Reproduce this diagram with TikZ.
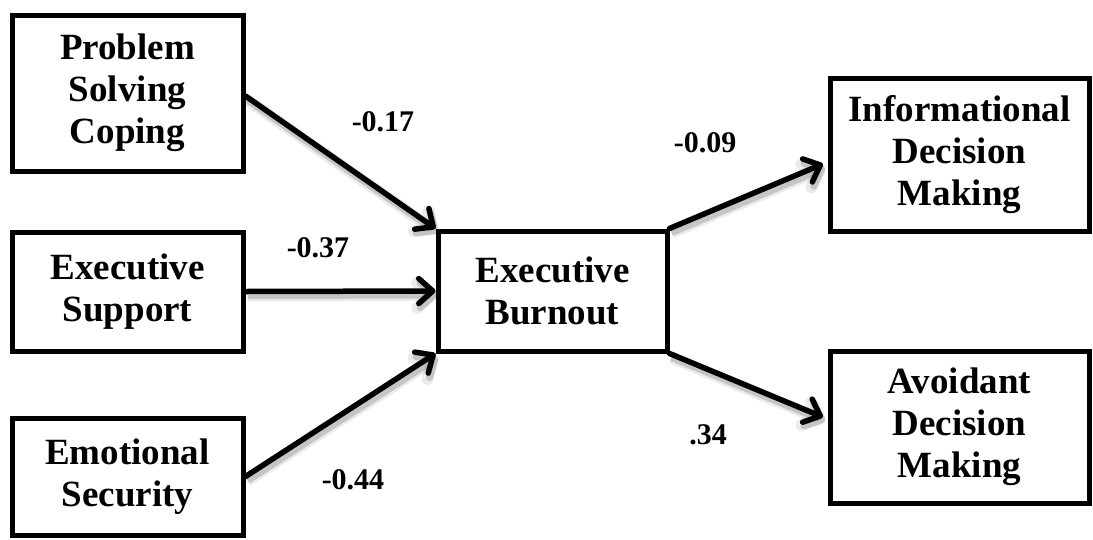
\documentclass[tikz,border=0pt]{standalone}
\usepackage{fontspec}
\setmainfont{Liberation Serif}
\usetikzlibrary{arrows.meta}

\tikzset{
  var/.style={draw=black, line width=5pt, fill=white, inner sep=0pt,
    align=center, font=\bfseries\fontsize{37}{42}\selectfont},
  coef/.style={inner sep=0pt, font=\bfseries\fontsize{30}{32}\selectfont},
  path arrow/.style={line width=5.5pt, line cap=round,
    -{Straight Barb[length=14pt,width=25pt,round]},
    preaction={draw=black, opacity=0.08, line width=12pt,
      transform canvas={shift={(2pt,-4pt)}}},
    preaction={draw=black, opacity=0.16, line width=7pt,
      transform canvas={shift={(2pt,-4pt)}}}},
}

\begin{document}
\begin{tikzpicture}[x=1pt, y=-1pt]
  \useasboundingbox (0,0) rectangle (1093,539);

  % predictors
  \node[var, minimum width=231pt, minimum height=156pt] (psc) at (127.5,93)
    {Problem\\Solving\\Coping};
  \node[var, minimum width=231pt, minimum height=119pt] (sup) at (127.5,291.5)
    {Executive\\Support};
  \node[var, minimum width=231pt, minimum height=117pt] (emo) at (127.5,476.5)
    {Emotional\\Security};

  % mediator
  \node[var, minimum width=229pt, minimum height=120pt] (bo) at (552.5,291)
    {Executive\\Burnout};

  % outcomes
  \node[var, minimum width=259pt, minimum height=153pt] (inf) at (959.5,154.5)
    {Informational\\Decision\\Making};
  \node[var, minimum width=259pt, minimum height=152pt] (avd) at (959.5,427)
    {Avoidant\\Decision\\Making};

  % paths
  \coordinate (inf-in) at ([yshift=-7.5pt]inf.west);
  \coordinate (avd-in) at ([yshift=8pt]avd.west);
  \draw[path arrow] ([yshift=-3pt]psc.east) -- (bo.north west);
  \draw[path arrow] (sup.east) -- (bo.west);
  \draw[path arrow] (emo.east) -- (bo.south west);
  \draw[path arrow, shorten >=5pt] (bo.north east) -- (inf-in);
  \draw[path arrow, shorten >=5pt] (bo.south east) -- (avd-in);

  % coefficients
  \node[coef] (c1) at (383,122) {-0.17};
  \node[coef] (c2) at (318,248) {-0.37};
  \node[coef] (c3) at (353,480) {-0.44};
  \node[coef] (c4) at (705,143) {-0.09};
  \node[coef] (c5) at (708,435) {.34};
\end{tikzpicture}
\end{document}
